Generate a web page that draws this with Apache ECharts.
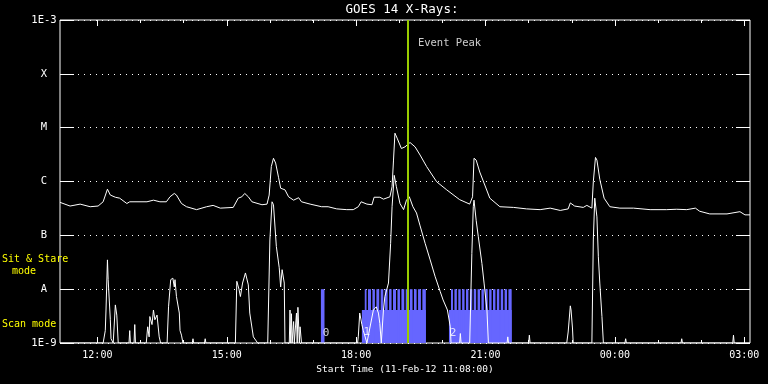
<!DOCTYPE html>
<html><head><meta charset="utf-8">
<script src="https://cdn.jsdelivr.net/npm/echarts@6/dist/echarts.min.js"></script>
<style>html,body{margin:0;padding:0;background:#000}#c{width:768px;height:384px}</style>
</head><body><div id="c"></div>
<script>
// ---- data (times are clock times, 11-Feb-12 11:08 -> 12-Feb-12 03:08) ----
const startTime = '11:08';
const endTime = '03:08';
const eventPeakTime = '19:12';
const yTickLabels = ['1E-9', 'A', 'B', 'C', 'M', 'X', '1E-3'];
const majorTickTimes = ['12:00', '15:00', '18:00', '21:00', '00:00', '03:00'];
const minorTickTimes = ['12:00','13:00','14:00','15:00','16:00','17:00','18:00','19:00','20:00','21:00','22:00','23:00','00:00','01:00','02:00','03:00'];

// GOES 14 long channel (1-8 A), W/m^2
const longChannel = [
  ['11:08',4.1e-7],['11:22',3.5e-7],['11:36',3.8e-7],['11:50',3.4e-7],['12:01',3.5e-7],['12:08',4.2e-7],
  ['12:14',7.2e-7],['12:18',5.6e-7],['12:25',5.1e-7],['12:31',4.9e-7],['12:41',3.9e-7],['12:45',4.2e-7],
  ['13:09',4.2e-7],['13:18',4.5e-7],['13:27',4.2e-7],['13:36',4.2e-7],['13:41',5.2e-7],['13:47',6.0e-7],
  ['13:50',5.6e-7],['13:57',3.9e-7],['14:04',3.4e-7],['14:18',3.0e-7],['14:32',3.4e-7],['14:41',3.6e-7],
  ['14:51',3.2e-7],['15:09',3.3e-7],['15:16',4.9e-7],['15:21',5.2e-7],['15:25',6.0e-7],['15:30',5.2e-7],
  ['15:35',4.2e-7],['15:49',3.7e-7],['15:56',3.8e-7],['15:59',5.6e-7],['16:02',1.9e-6],['16:05',2.7e-6],
  ['16:08',2.2e-6],['16:12',1.2e-6],['16:15',7.5e-7],['16:21',7.0e-7],['16:26',5.2e-7],['16:33',4.5e-7],
  ['16:40',5.0e-7],['16:44',4.2e-7],['16:56',3.8e-7],['17:12',3.4e-7],['17:21',3.4e-7],['17:33',3.1e-7],
  ['17:47',3.0e-7],['17:56',3.0e-7],['18:03',3.4e-7],['18:07',4.2e-7],['18:15',3.8e-7],['18:22',3.7e-7],
  ['18:25',5.1e-7],['18:33',5.1e-7],['18:38',4.7e-7],['18:47',5.2e-7],['18:50',8.0e-7],['18:52',2.5e-6],
  ['18:54',7.9e-6],['18:57',6.4e-6],['19:03',4.1e-6],['19:08',4.4e-6],['19:15',5.3e-6],['19:22',4.4e-6],
  ['19:29',3.1e-6],['19:38',1.9e-6],['19:52',9.9e-7],['20:06',7.0e-7],['20:24',4.6e-7],['20:38',3.8e-7],
  ['20:42',5.2e-7],['20:44',2.7e-6],['20:47',2.5e-6],['20:52',1.5e-6],['20:59',8.6e-7],['21:06',4.9e-7],
  ['21:20',3.4e-7],['21:39',3.3e-7],['21:57',3.1e-7],['22:16',3.0e-7],['22:30',3.2e-7],['22:44',2.9e-7],
  ['22:55',3.1e-7],['22:58',4.0e-7],['23:04',3.5e-7],['23:16',3.3e-7],['23:21',3.6e-7],['23:28',3.2e-7],
  ['23:30',9.9e-7],['23:33',2.8e-6],['23:35',2.5e-6],['23:39',1.1e-6],['23:45',4.9e-7],['23:53',3.4e-7],
  ['00:07',3.2e-7],['00:26',3.2e-7],['00:49',3.0e-7],['01:12',3.0e-7],['01:26',3.05e-7],['01:40',3.0e-7],
  ['01:52',3.2e-7],['01:58',2.8e-7],['02:12',2.5e-7],['02:36',2.5e-7],['02:54',2.75e-7],['03:01',2.4e-7],
  ['03:08',2.4e-7]
];

// GOES 14 short channel (0.5-4 A), W/m^2 (floor at 1E-9)
const shortChannel = [
  ['11:08',1e-9],['12:08',1e-9],['12:11',1.7e-9],['12:12',4.1e-9],['12:14',3.5e-8],['12:15',1.5e-8],
  ['12:18',2.7e-9],['12:19',1.2e-9],['12:22',1e-9],['12:24',1e-9],['12:25',5.1e-9],['12:27',3.3e-9],
  ['12:29',1e-9],['12:44',1e-9],['12:45',1.7e-9],['12:46',1e-9],['12:51',1e-9],['12:52',2.2e-9],
  ['12:53',1e-9],['13:08',1e-9],['13:10',2.0e-9],['13:12',1.3e-9],['13:13',3.1e-9],['13:16',2.2e-9],
  ['13:18',4.1e-9],['13:20',2.7e-9],['13:23',3.3e-9],['13:26',1.3e-9],['13:28',1e-9],['13:37',1e-9],
  ['13:39',4.7e-9],['13:42',1.5e-8],['13:45',1.6e-8],['13:47',1.1e-8],['13:48',1.5e-8],['13:50',7.3e-9],
  ['13:54',3.6e-9],['13:55',1.7e-9],['13:57',1.4e-9],['13:59',1e-9],['14:12',1e-9],['14:13',1.2e-9],
  ['14:14',1e-9],['14:29',1e-9],['14:30',1.2e-9],['14:31',1e-9],['15:12',1e-9],['15:14',1.4e-8],
  ['15:17',1.0e-8],['15:19',7.3e-9],['15:22',1.3e-8],['15:26',2.0e-8],['15:30',1.2e-8],['15:32',3.6e-9],
  ['15:37',1.3e-9],['15:43',1e-9],['15:57',1e-9],['16:00',8.2e-8],['16:03',4.2e-7],['16:05',3.7e-7],
  ['16:09',6.2e-8],['16:13',2.5e-8],['16:15',1.1e-8],['16:17',2.3e-8],['16:20',1.3e-8],['16:21',1e-9],
  ['16:27',1e-9],['16:28',4.1e-9],['16:29',1e-9],['16:30',3.5e-9],['16:31',1e-9],['16:33',2.5e-9],
  ['16:34',1e-9],['16:37',3.6e-9],['16:38',1e-9],['16:39',4.6e-9],['16:41',1e-9],['16:42',2.0e-9],
  ['16:44',1e-9],['18:02',1e-9],['18:03',1.3e-9],['18:05',3.6e-9],['18:08',2.2e-9],['18:10',1.7e-9],
  ['18:15',1e-9],['18:24',4.1e-9],['18:28',4.7e-9],['18:31',3.6e-9],['18:33',2.3e-9],['18:35',1e-9],
  ['18:38',4.1e-9],['18:40',7.3e-9],['18:45',1.3e-8],['18:48',7.1e-8],['18:50',3.4e-7],['18:53',1.3e-6],
  ['18:54',1.4e-6],['18:56',8.0e-7],['19:01',3.9e-7],['19:06',3.0e-7],['19:10',4.5e-7],['19:14',5.2e-7],
  ['19:19',3.4e-7],['19:24',2.6e-7],['19:29',1.5e-7],['19:36',7.1e-8],['19:43',3.5e-8],['19:50',1.7e-8],
  ['19:57',9.0e-9],['20:01',6.3e-9],['20:07',4.1e-9],['20:11',2.0e-9],['20:12',1e-9],['20:24',1e-9],
  ['20:25',1.5e-9],['20:26',1e-9],['20:38',1e-9],['20:41',4.6e-8],['20:43',3.4e-7],['20:44',4.5e-7],
  ['20:47',1.9e-7],['20:50',9.4e-8],['20:55',3.0e-8],['20:58',1.3e-8],['21:02',4.1e-9],['21:04',1e-9],
  ['21:30',1e-9],['21:31',1.3e-9],['21:32',1e-9],['22:00',1e-9],['22:01',1.4e-9],['22:02',1e-9],
  ['22:53',1e-9],['22:55',1.6e-9],['22:58',4.9e-9],['22:59',4.1e-9],['23:01',1.9e-9],['23:02',1e-9],
  ['23:28',1e-9],['23:30',8.2e-8],['23:32',4.9e-7],['23:35',2.2e-7],['23:37',4.0e-8],['23:39',1.3e-8],
  ['23:42',3.1e-9],['23:44',1e-9],['00:14',1e-9],['00:15',1.2e-9],['00:16',1e-9],['01:32',1e-9],
  ['01:33',1.2e-9],['01:34',1e-9],['02:44',1e-9],['02:45',1.4e-9],['02:46',1e-9],['03:08',1e-9]
];

// observing-mode bars: [start, end]
const sitStareBars = [['17:11','17:16']];
const scanBaseBars = [['18:08','19:37'], ['20:09:10','21:36:25']];
const scanTopBars = [
  ['18:12:00','18:14:30'],['18:16:30','18:20:40'],['18:22:40','18:26:10'],['18:28:10','18:32:10'],
  ['18:34:10','18:37:50'],['18:39:50','18:43:50'],['18:45:50','18:49:20'],['18:51:20','18:55:30'],
  ['18:57:30','19:01:00'],['19:03:00','19:07:00'],['19:09:00','19:12:40'],['19:14:40','19:18:30'],
  ['19:20:30','19:24:10'],['19:26:10','19:30:10'],['19:32:10','19:37:00'],
  ['20:12:00','20:14:45'],['20:16:45','20:20:08'],['20:22:08','20:25:30'],['20:27:30','20:30:52'],
  ['20:32:52','20:36:14'],['20:38:14','20:41:37'],['20:43:37','20:46:59'],['20:48:59','20:52:21'],
  ['20:54:21','20:57:43'],['20:59:43','21:03:05'],['21:05:05','21:08:28'],['21:10:28','21:13:50'],
  ['21:15:50','21:19:12'],['21:21:12','21:24:34'],['21:26:34','21:29:56'],['21:31:56','21:36:25']
];
const modeTopLevel = 1e-8;
const scanBaseLevel = 4.1e-9;
const scanNumbers = [['17:18',1.55e-9,'0'], ['18:15',1.6e-9,'1'], ['20:15',1.55e-9,'2']];
const eventLabelFlux = 3.7e-4;

// ---- helpers ----
function t(s) {
  const p = s.split(':').map(Number);
  const h = p[0], m = p[1], sec = p[2] || 0;
  const day = h < 11 ? 12 : 11;
  return Date.UTC(2012, 1, day, h, m, sec);
}
function pad(n) { return (n < 10 ? '0' : '') + n; }
function fmtTime(v) { const d = new Date(v); return pad(d.getUTCHours()) + ':' + pad(d.getUTCMinutes()); }

const FONT = 'DejaVu Sans Mono';
const xMin = t(startTime), xMax = t(endTime);
const majorVals = majorTickTimes.map(t);
const minorVals = minorTickTimes.map(t);

const modeData = []
  .concat(scanBaseBars.map(b => [t(b[0]), t(b[1]), scanBaseLevel]))
  .concat(scanTopBars.map(b => [t(b[0]), t(b[1]), modeTopLevel]))
  .concat(sitStareBars.map(b => [t(b[0]), t(b[1]), modeTopLevel]));

const chart = echarts.init(document.getElementById('c'), null, {renderer: 'canvas'});
const gridRect = {left: 60, top: 20, width: 690, height: 323};

function xAx(grid, pos, len, vals, withLabels) {
  const a = { type: 'value', gridIndex: grid, position: pos, min: xMin, max: xMax, scale: true,
    axisLine: {show: false}, splitLine: {show: false},
    axisTick: {show: true, inside: true, length: len, customValues: vals, lineStyle: {color: '#fff', width: 1}},
    axisLabel: {show: false} };
  if (withLabels) {
    a.axisLabel = {show: true, customValues: vals, formatter: v => fmtTime(v), color: '#fff',
                   fontFamily: FONT, fontSize: 10, margin: 7};
    a.name = 'Start Time (11-Feb-12 11:08:00)';
    a.nameLocation = 'middle';
    a.nameGap = 19;
    a.nameTextStyle = {color: '#fff', fontFamily: FONT, fontSize: 9.5};
  }
  return a;
}

const option = {
  backgroundColor: '#000',
  animation: false,
  textStyle: {fontFamily: FONT, color: '#fff'},
  grid: [
    Object.assign({show: true, borderColor: '#fff', borderWidth: 1, backgroundColor: 'transparent'}, gridRect),
    Object.assign({show: false}, gridRect)
  ],
  xAxis: [
    xAx(0, 'bottom', 6, majorVals, true),
    xAx(0, 'top', 6, majorVals, false),
    xAx(1, 'bottom', 3, minorVals, false),
    xAx(1, 'top', 3, minorVals, false)
  ],
  yAxis: [
    { type: 'log', logBase: 10, gridIndex: 0, position: 'left', min: 1e-9, max: 1e-3, interval: 1,
      axisLine: {show: false},
      axisTick: {show: true, inside: true, length: 14, lineStyle: {color: '#fff', width: 1}},
      splitLine: {show: true, lineStyle: {color: '#fff', width: 1, type: [1, 5]}},
      axisLabel: {color: '#fff', fontFamily: FONT, fontSize: 10.5, align: 'center', margin: 16,
        formatter: v => { const e = Math.round(Math.log10(v)); return yTickLabels[e + 9] || ''; }} },
    { type: 'log', logBase: 10, gridIndex: 0, position: 'right', min: 1e-9, max: 1e-3, interval: 1,
      axisLine: {show: false}, splitLine: {show: false}, axisLabel: {show: false},
      axisTick: {show: true, inside: true, length: 14, lineStyle: {color: '#fff', width: 1}} },
    { type: 'value', gridIndex: 1, show: false, min: 0, max: 1 }
  ],
  series: [
    { name: 'mode', type: 'custom', xAxisIndex: 0, yAxisIndex: 0, data: modeData,
      encode: {x: [0, 1], y: 2}, silent: true,
      renderItem: (params, api) => {
        const p0 = api.coord([api.value(0), api.value(2)]);
        const p1 = api.coord([api.value(1), 1e-9]);
        return {type: 'rect', shape: {x: p0[0], y: p0[1], width: p1[0] - p0[0], height: p1[1] - p0[1]},
                style: {fill: '#6666ff'}};
      } },
    { name: 'long', type: 'line', xAxisIndex: 0, yAxisIndex: 0, showSymbol: false, symbol: 'none',
      data: longChannel.map(d => [t(d[0]), d[1]]), lineStyle: {color: '#fff', width: 1}, silent: true },
    { name: 'short', type: 'line', xAxisIndex: 0, yAxisIndex: 0, showSymbol: false, symbol: 'none',
      data: shortChannel.map(d => [t(d[0]), d[1]]), lineStyle: {color: '#fff', width: 1}, silent: true },
    { name: 'scanNumbers', type: 'scatter', xAxisIndex: 0, yAxisIndex: 0, symbolSize: 0, silent: true,
      data: scanNumbers.map(d => ({value: [t(d[0]), d[1]], label: {formatter: d[2]}})),
      label: {show: true, position: 'inside', color: '#fff', fontFamily: FONT, fontSize: 11} },
    { name: 'event', type: 'scatter', xAxisIndex: 0, yAxisIndex: 0, symbolSize: 0, silent: true, z: 5,
      data: [[t(eventPeakTime), eventLabelFlux]],
      label: {show: true, position: 'right', distance: 10, formatter: 'Event Peak', color: '#fff',
              fontFamily: FONT, fontSize: 10.5},
      markLine: {silent: true, symbol: ['none', 'none'], animation: false,
        data: [{xAxis: t(eventPeakTime)}],
        lineStyle: {color: '#99cc00', width: 2, type: 'solid'}, label: {show: false}} }
  ],
  graphic: [
    {type: 'text', x: 402, y: 10, style: {text: 'GOES 14 X-Rays:', fill: '#fff', font: '12.5px "DejaVu Sans Mono"', align: 'center', verticalAlign: 'middle'}},
    {type: 'text', x: 2, y: 259, style: {text: 'Sit & Stare', fill: '#ffff00', font: '10px "DejaVu Sans Mono"', align: 'left', verticalAlign: 'middle'}},
    {type: 'text', x: 12, y: 271.5, style: {text: 'mode', fill: '#ffff00', font: '10px "DejaVu Sans Mono"', align: 'left', verticalAlign: 'middle'}},
    {type: 'text', x: 2, y: 324, style: {text: 'Scan mode', fill: '#ffff00', font: '10px "DejaVu Sans Mono"', align: 'left', verticalAlign: 'middle'}}
  ]
};
chart.setOption(option);
</script>
</body></html>
